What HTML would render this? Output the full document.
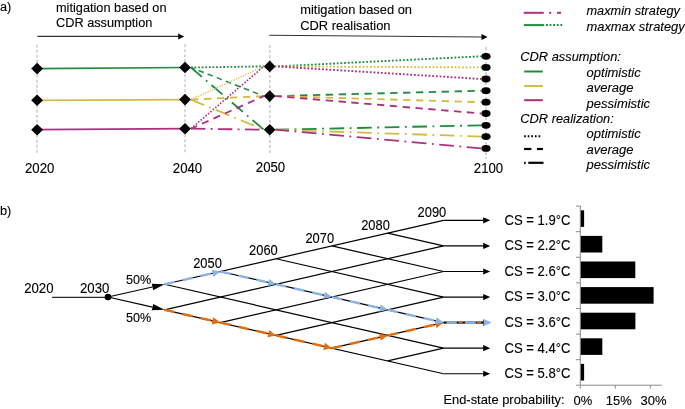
<!DOCTYPE html>
<html><head><meta charset="utf-8">
<style>
html,body{margin:0;padding:0;background:#fff;width:685px;height:409px;overflow:hidden}
svg{display:block;will-change:transform}
text{font-family:"Liberation Sans",sans-serif;font-size:12.75px;fill:#000;stroke:#000;stroke-width:0.12px}
</style></head><body>
<svg width="685" height="409" viewBox="0 0 685 409">
<text transform="translate(0,11.3) scale(1,1.04)" style="font-size:12.75px">a)</text>
<text transform="translate(56,11.5) scale(1,1.04)" style="font-size:12.75px">mitigation based on</text>
<text transform="translate(56,27) scale(1,1.04)" style="font-size:12.75px">CDR assumption</text>
<text transform="translate(300.2,14.2) scale(1,1.04)" style="font-size:12.9px">mitigation based on</text>
<text transform="translate(300.2,29.8) scale(1,1.04)" style="font-size:12.9px">CDR realisation</text>
<line x1="37.40" y1="36.40" x2="179.00" y2="36.40" stroke="#333" stroke-width="1.1" />
<path d="M184.20,36.40 L178.20,39.40 L178.20,33.40 Z" fill="#000"/>
<line x1="269.30" y1="35.20" x2="482.00" y2="36.95" stroke="#333" stroke-width="1.1" />
<path d="M487.50,37.00 L481.48,39.95 L481.52,33.95 Z" fill="#000"/>
<g stroke="#cfcfcf" stroke-width="1.6" stroke-dasharray="3 2" fill="none">
<line x1="37.00" y1="44.70" x2="37.00" y2="154.00" stroke="#cfcfcf" stroke-width="1.6" />
<line x1="185.00" y1="44.30" x2="185.00" y2="153.00" stroke="#cfcfcf" stroke-width="1.6" />
<line x1="269.80" y1="45.00" x2="269.80" y2="153.00" stroke="#cfcfcf" stroke-width="1.6" />
<line x1="486.00" y1="47.00" x2="486.00" y2="159.00" stroke="#cfcfcf" stroke-width="1.6" />
</g>
<line x1="37.10" y1="68.60" x2="185.00" y2="67.50" stroke="#1e8c3c" stroke-width="1.7" />
<line x1="37.10" y1="100.30" x2="185.00" y2="99.60" stroke="#d4bb48" stroke-width="1.7" />
<line x1="37.10" y1="129.70" x2="185.00" y2="128.70" stroke="#ac2f80" stroke-width="1.7" />
<g fill="none">
<line x1="190.90" y1="67.50" x2="263.80" y2="66.40" stroke="#1e8c3c" stroke-width="1.8" stroke-dasharray="1.8 1.8"/>
<line x1="190.90" y1="67.50" x2="263.80" y2="96.10" stroke="#1e8c3c" stroke-width="1.5" stroke-dasharray="5.56 4.17" stroke-dashoffset="1.5"/>
<line x1="190.90" y1="67.50" x2="263.80" y2="129.70" stroke="#1e8c3c" stroke-width="1.8" stroke-dasharray="14.40 5.40 1.80 5.40"/>
<line x1="190.90" y1="99.60" x2="263.80" y2="66.40" stroke="#d4bb48" stroke-width="1.3" stroke-dasharray="1.3 1.3"/>
<line x1="190.90" y1="99.60" x2="263.80" y2="96.10" stroke="#d4bb48" stroke-width="1.86" stroke-dasharray="7.44 5.58"/>
<line x1="190.90" y1="99.60" x2="263.80" y2="129.70" stroke="#d4bb48" stroke-width="1.8" stroke-dasharray="14.40 5.40 1.80 5.40"/>
<line x1="190.90" y1="128.70" x2="263.80" y2="66.40" stroke="#ac2f80" stroke-width="1.6" stroke-dasharray="1.6 1.6"/>
<line x1="190.90" y1="128.70" x2="263.80" y2="96.10" stroke="#ac2f80" stroke-width="1.8" stroke-dasharray="7.20 5.40" stroke-dashoffset="0.5"/>
<line x1="190.90" y1="128.70" x2="263.80" y2="129.70" stroke="#ac2f80" stroke-width="1.8" stroke-dasharray="14.40 5.40 1.80 5.40"/>
<line x1="275.60" y1="66.40" x2="481.40" y2="56.30" stroke="#1e8c3c" stroke-width="1.84" stroke-dasharray="1.84 1.84" stroke-dashoffset="1.3"/>
<line x1="275.60" y1="66.40" x2="481.40" y2="67.40" stroke="#d4bb48" stroke-width="1.84" stroke-dasharray="1.84 1.84" stroke-dashoffset="1.3"/>
<line x1="275.60" y1="66.40" x2="481.40" y2="79.00" stroke="#ac2f80" stroke-width="1.84" stroke-dasharray="1.84 1.84" stroke-dashoffset="1.3"/>
<line x1="275.60" y1="96.10" x2="481.40" y2="90.70" stroke="#1e8c3c" stroke-width="1.84" stroke-dasharray="7.36 5.52" stroke-dashoffset="1.3"/>
<line x1="275.60" y1="96.10" x2="481.40" y2="102.20" stroke="#d4bb48" stroke-width="1.84" stroke-dasharray="7.36 5.52" stroke-dashoffset="1.3"/>
<line x1="275.60" y1="96.10" x2="481.40" y2="113.50" stroke="#ac2f80" stroke-width="1.84" stroke-dasharray="7.36 5.52" stroke-dashoffset="1.3"/>
<line x1="275.60" y1="129.70" x2="481.40" y2="125.30" stroke="#1e8c3c" stroke-width="1.84" stroke-dasharray="14.72 5.52 1.84 5.52" stroke-dashoffset="1.3"/>
<line x1="275.60" y1="129.70" x2="481.40" y2="136.60" stroke="#d4bb48" stroke-width="1.84" stroke-dasharray="14.72 5.52 1.84 5.52" stroke-dashoffset="1.3"/>
<line x1="275.60" y1="129.70" x2="481.40" y2="148.40" stroke="#ac2f80" stroke-width="1.84" stroke-dasharray="14.72 5.52 1.84 5.52" stroke-dashoffset="1.3"/>
</g>
<g fill="#000">
<path d="M37.1,62.80 L43.00,68.6 L37.1,74.40 L31.20,68.6 Z"/>
<path d="M37.1,94.50 L43.00,100.3 L37.1,106.10 L31.20,100.3 Z"/>
<path d="M37.1,123.90 L43.00,129.7 L37.1,135.50 L31.20,129.7 Z"/>
<path d="M185.0,61.70 L190.90,67.5 L185.0,73.30 L179.10,67.5 Z"/>
<path d="M185.0,93.80 L190.90,99.6 L185.0,105.40 L179.10,99.6 Z"/>
<path d="M185.0,122.90 L190.90,128.7 L185.0,134.50 L179.10,128.7 Z"/>
<path d="M269.7,60.60 L275.60,66.4 L269.7,72.20 L263.80,66.4 Z"/>
<path d="M269.7,90.30 L275.60,96.1 L269.7,101.90 L263.80,96.1 Z"/>
<path d="M269.7,123.90 L275.60,129.7 L269.7,135.50 L263.80,129.7 Z"/>
<ellipse cx="486.0" cy="56.3" rx="4.6" ry="3.4"/>
<ellipse cx="486.0" cy="67.4" rx="4.6" ry="3.4"/>
<ellipse cx="486.0" cy="79.0" rx="4.6" ry="3.4"/>
<ellipse cx="486.0" cy="90.7" rx="4.6" ry="3.4"/>
<ellipse cx="486.0" cy="102.2" rx="4.6" ry="3.4"/>
<ellipse cx="486.0" cy="113.5" rx="4.6" ry="3.4"/>
<ellipse cx="486.0" cy="125.3" rx="4.6" ry="3.4"/>
<ellipse cx="486.0" cy="136.6" rx="4.6" ry="3.4"/>
<ellipse cx="486.0" cy="148.4" rx="4.6" ry="3.4"/>
</g>
<text transform="translate(25,173.1) scale(1,1.04)" style="font-size:13.2px">2020</text>
<text transform="translate(172.8,172.5) scale(1,1.04)" style="font-size:13.2px">2040</text>
<text transform="translate(255.8,171.9) scale(1,1.04)" style="font-size:13.2px">2050</text>
<text transform="translate(473.8,172.6) scale(1,1.04)" style="font-size:13.2px">2100</text>
<g fill="none">
<line x1="523.70" y1="12.80" x2="543.80" y2="12.80" stroke="#ac2f80" stroke-width="2" />
<line x1="549.10" y1="12.80" x2="551.20" y2="12.80" stroke="#ac2f80" stroke-width="2" />
<line x1="557.00" y1="12.80" x2="561.00" y2="12.80" stroke="#ac2f80" stroke-width="2" />
<line x1="523.90" y1="25.10" x2="544.20" y2="25.10" stroke="#1e8c3c" stroke-width="2" />
<line x1="546.00" y1="25.10" x2="563.00" y2="25.10" stroke="#1e8c3c" stroke-width="2" stroke-dasharray="1.8 1.8"/>
<line x1="524.20" y1="71.50" x2="542.80" y2="71.50" stroke="#1e8c3c" stroke-width="2" />
<line x1="524.20" y1="86.00" x2="542.80" y2="86.00" stroke="#d4bb48" stroke-width="2" />
<line x1="524.20" y1="100.20" x2="542.80" y2="100.20" stroke="#ac2f80" stroke-width="2" />
<line x1="524.10" y1="136.20" x2="542.00" y2="136.20" stroke="#000" stroke-width="2" stroke-dasharray="1.7 1.9"/>
<line x1="524.10" y1="149.00" x2="531.40" y2="149.00" stroke="#000" stroke-width="2.2" />
<line x1="536.90" y1="149.00" x2="542.90" y2="149.00" stroke="#000" stroke-width="2.2" />
<line x1="524.10" y1="162.80" x2="525.70" y2="162.80" stroke="#000" stroke-width="2.2" />
<line x1="528.30" y1="162.80" x2="543.50" y2="162.80" stroke="#000" stroke-width="2.2" />
</g>
<text transform="translate(586.5,15) scale(1,1.04)" style="font-size:12.75px;font-style:italic">maxmin strategy</text>
<text transform="translate(586.5,30.5) scale(1,1.04)" style="font-size:12.9px;font-style:italic">maxmax strategy</text>
<text transform="translate(520.3,60.7) scale(1,1.04)" style="font-size:12.85px;font-style:italic">CDR assumption:</text>
<text transform="translate(586.6,76.8) scale(1,1.04)" style="font-size:13px;font-style:italic">optimistic</text>
<text transform="translate(586.6,92.2) scale(1,1.04)" style="font-size:13px;font-style:italic">average</text>
<text transform="translate(586.6,107.6) scale(1,1.04)" style="font-size:13px;font-style:italic">pessimistic</text>
<text transform="translate(520.3,123) scale(1,1.04)" style="font-size:12.85px;font-style:italic">CDR realization:</text>
<text transform="translate(586.6,138.4) scale(1,1.04)" style="font-size:13px;font-style:italic">optimistic</text>
<text transform="translate(586.6,153.8) scale(1,1.04)" style="font-size:13px;font-style:italic">average</text>
<text transform="translate(586.6,169.2) scale(1,1.04)" style="font-size:13px;font-style:italic">pessimistic</text>
<text transform="translate(0,215) scale(1,1.07)" style="font-size:12.75px">b)</text>
<text transform="translate(24.2,293.1) scale(1,1.04)" style="font-size:13.2px">2020</text>
<text transform="translate(80,293.1) scale(1,1.04)" style="font-size:13.2px">2030</text>
<line x1="52.10" y1="297.40" x2="108.00" y2="297.40" stroke="#2a2a2a" stroke-width="1.25" />
<g stroke="#000" stroke-width="1.2" fill="none">
<line x1="164.50" y1="309.83" x2="443.50" y2="245.93" stroke="#000" stroke-width="1.2" />
<line x1="220.30" y1="322.61" x2="443.50" y2="271.49" stroke="#000" stroke-width="1.2" />
<line x1="276.10" y1="335.39" x2="443.50" y2="297.05" stroke="#000" stroke-width="1.2" />
<line x1="331.90" y1="348.17" x2="443.50" y2="322.61" stroke="#000" stroke-width="1.2" />
<line x1="387.70" y1="360.95" x2="443.50" y2="348.17" stroke="#000" stroke-width="1.2" />
<line x1="164.50" y1="284.27" x2="443.50" y2="220.37" stroke="#000" stroke-width="1.2" />
<line x1="164.50" y1="284.27" x2="443.50" y2="348.17" stroke="#000" stroke-width="1.2" />
<line x1="220.30" y1="271.49" x2="443.50" y2="322.61" stroke="#000" stroke-width="1.2" />
<line x1="276.10" y1="258.71" x2="443.50" y2="297.05" stroke="#000" stroke-width="1.2" />
<line x1="331.90" y1="245.93" x2="443.50" y2="271.49" stroke="#000" stroke-width="1.2" />
<line x1="387.70" y1="233.15" x2="443.50" y2="245.93" stroke="#000" stroke-width="1.2" />
<line x1="164.50" y1="309.83" x2="443.50" y2="373.73" stroke="#000" stroke-width="1.2" />
</g>
<line x1="443.50" y1="220.37" x2="485.00" y2="220.37" stroke="#000" stroke-width="1.2" />
<path d="M490.20,220.37 L483.20,223.47 L483.20,217.27 Z" fill="#000"/>
<line x1="443.50" y1="245.93" x2="485.00" y2="245.93" stroke="#000" stroke-width="1.2" />
<path d="M490.20,245.93 L483.20,249.03 L483.20,242.83 Z" fill="#000"/>
<line x1="443.50" y1="271.49" x2="485.00" y2="271.49" stroke="#000" stroke-width="1.2" />
<path d="M490.20,271.49 L483.20,274.59 L483.20,268.39 Z" fill="#000"/>
<line x1="443.50" y1="297.05" x2="485.00" y2="297.05" stroke="#000" stroke-width="1.2" />
<path d="M490.20,297.05 L483.20,300.15 L483.20,293.95 Z" fill="#000"/>
<line x1="443.50" y1="322.61" x2="485.00" y2="322.61" stroke="#000" stroke-width="1.2" />
<path d="M490.20,322.61 L483.20,325.71 L483.20,319.51 Z" fill="#000"/>
<line x1="443.50" y1="348.17" x2="485.00" y2="348.17" stroke="#000" stroke-width="1.2" />
<path d="M490.20,348.17 L483.20,351.27 L483.20,345.07 Z" fill="#000"/>
<line x1="443.50" y1="373.73" x2="485.00" y2="373.73" stroke="#000" stroke-width="1.2" />
<path d="M490.20,373.73 L483.20,376.83 L483.20,370.63 Z" fill="#000"/>
<path d="M164.50,284.27 L153.23,290.19 L151.78,283.75 Z" fill="#000"/>
<line x1="108.00" y1="297.00" x2="152.50" y2="286.97" stroke="#000" stroke-width="1.2" />
<path d="M164.50,309.83 L151.77,310.32 L153.24,303.89 Z" fill="#000"/>
<line x1="108.00" y1="297.00" x2="152.51" y2="307.11" stroke="#000" stroke-width="1.2" />
<circle cx="108" cy="297" r="3.3" fill="#000"/>
<line x1="164.50" y1="309.83" x2="212.99" y2="320.94" stroke="#e46c0a" stroke-width="2.4" stroke-dasharray="10.5 8"/>
<path d="M220.30,322.61 L211.68,324.43 L213.33,317.22 Z" fill="#e46c0a"/>
<line x1="220.30" y1="322.61" x2="268.79" y2="333.72" stroke="#e46c0a" stroke-width="2.4" stroke-dasharray="10.5 8"/>
<path d="M276.10,335.39 L267.48,337.21 L269.13,330.00 Z" fill="#e46c0a"/>
<line x1="276.10" y1="335.39" x2="324.59" y2="346.50" stroke="#e46c0a" stroke-width="2.4" stroke-dasharray="10.5 8"/>
<path d="M331.90,348.17 L323.28,349.99 L324.93,342.78 Z" fill="#e46c0a"/>
<line x1="331.90" y1="348.17" x2="380.39" y2="337.06" stroke="#e46c0a" stroke-width="2.4" stroke-dasharray="10.5 8"/>
<path d="M387.70,335.39 L380.73,340.78 L379.08,333.57 Z" fill="#e46c0a"/>
<line x1="387.70" y1="335.39" x2="436.19" y2="324.28" stroke="#e46c0a" stroke-width="2.4" stroke-dasharray="10.5 8"/>
<path d="M443.50,322.61 L436.53,328.00 L434.88,320.79 Z" fill="#e46c0a"/>
<line x1="164.50" y1="284.27" x2="212.99" y2="273.16" stroke="#8db4e2" stroke-width="2.4" stroke-dasharray="10.5 8"/>
<path d="M220.30,271.49 L213.33,276.88 L211.68,269.67 Z" fill="#8db4e2"/>
<line x1="220.30" y1="271.49" x2="268.79" y2="282.60" stroke="#8db4e2" stroke-width="2.4" stroke-dasharray="10.5 8"/>
<path d="M276.10,284.27 L267.48,286.09 L269.13,278.88 Z" fill="#8db4e2"/>
<line x1="276.10" y1="284.27" x2="324.59" y2="295.38" stroke="#8db4e2" stroke-width="2.4" stroke-dasharray="10.5 8"/>
<path d="M331.90,297.05 L323.28,298.87 L324.93,291.66 Z" fill="#8db4e2"/>
<line x1="331.90" y1="297.05" x2="380.39" y2="308.16" stroke="#8db4e2" stroke-width="2.4" stroke-dasharray="10.5 8"/>
<path d="M387.70,309.83 L379.08,311.65 L380.73,304.44 Z" fill="#8db4e2"/>
<line x1="387.70" y1="309.83" x2="436.19" y2="320.94" stroke="#8db4e2" stroke-width="2.4" stroke-dasharray="10.5 8"/>
<path d="M443.50,322.61 L434.88,324.43 L436.53,317.22 Z" fill="#8db4e2"/>
<line x1="444.00" y1="322.61" x2="486.00" y2="322.61" stroke="#000" stroke-width="2.0" />
<line x1="458.40" y1="322.61" x2="462.60" y2="322.61" stroke="#e46c0a" stroke-width="1.2" />
<line x1="476.90" y1="322.61" x2="481.10" y2="322.61" stroke="#e46c0a" stroke-width="1.2" />
<line x1="446.50" y1="322.61" x2="456.80" y2="322.61" stroke="#8db4e2" stroke-width="2.4" />
<line x1="465.00" y1="322.61" x2="475.80" y2="322.61" stroke="#8db4e2" stroke-width="2.4" />
<path d="M491.80,322.61 L483.60,326.11 L483.60,319.11 Z" fill="#8db4e2"/>
<text transform="translate(126,283.6) scale(1,1.04)" style="font-size:12.6px">50%</text>
<text transform="translate(126,321.7) scale(1,1.04)" style="font-size:12.6px">50%</text>
<text transform="translate(193.2,268) scale(1,1.07)" style="font-size:12.9px">2050</text>
<text transform="translate(249.1,254.9) scale(1,1.07)" style="font-size:12.9px">2060</text>
<text transform="translate(305.4,242.8) scale(1,1.07)" style="font-size:12.9px">2070</text>
<text transform="translate(361.2,230.2) scale(1,1.07)" style="font-size:12.9px">2080</text>
<text transform="translate(417.6,216.9) scale(1,1.07)" style="font-size:12.9px">2090</text>
<text transform="translate(504.5,225) scale(1,1.06)" style="font-size:13.1px">CS = 1.9°C</text>
<text transform="translate(504.5,250) scale(1,1.06)" style="font-size:13.1px">CS = 2.2°C</text>
<text transform="translate(504.5,276) scale(1,1.06)" style="font-size:13.1px">CS = 2.6°C</text>
<text transform="translate(504.5,301) scale(1,1.06)" style="font-size:13.1px">CS = 3.0°C</text>
<text transform="translate(504.5,327) scale(1,1.06)" style="font-size:13.1px">CS = 3.6°C</text>
<text transform="translate(504.5,353) scale(1,1.06)" style="font-size:13.1px">CS = 4.4°C</text>
<text transform="translate(504.5,378) scale(1,1.06)" style="font-size:13.1px">CS = 5.8°C</text>
<g stroke="#8a8a8a" stroke-width="1" fill="none">
<line x1="580.30" y1="205.80" x2="580.30" y2="385.20" stroke="#8a8a8a" stroke-width="1" />
<line x1="576.00" y1="385.20" x2="661.70" y2="385.20" stroke="#8a8a8a" stroke-width="1" />
<line x1="576.00" y1="206.10" x2="580.30" y2="206.10" stroke="#8a8a8a" stroke-width="1" />
<line x1="576.00" y1="231.70" x2="580.30" y2="231.70" stroke="#8a8a8a" stroke-width="1" />
<line x1="576.00" y1="257.30" x2="580.30" y2="257.30" stroke="#8a8a8a" stroke-width="1" />
<line x1="576.00" y1="282.90" x2="580.30" y2="282.90" stroke="#8a8a8a" stroke-width="1" />
<line x1="576.00" y1="308.50" x2="580.30" y2="308.50" stroke="#8a8a8a" stroke-width="1" />
<line x1="576.00" y1="334.10" x2="580.30" y2="334.10" stroke="#8a8a8a" stroke-width="1" />
<line x1="576.00" y1="359.70" x2="580.30" y2="359.70" stroke="#8a8a8a" stroke-width="1" />
<line x1="580.30" y1="385.20" x2="580.30" y2="388.50" stroke="#8a8a8a" stroke-width="1" />
<line x1="615.30" y1="385.20" x2="615.30" y2="388.50" stroke="#8a8a8a" stroke-width="1" />
<line x1="650.30" y1="385.20" x2="650.30" y2="388.50" stroke="#8a8a8a" stroke-width="1" />
</g>
<g fill="#000">
<rect x="580.8" y="210.30" width="3.3" height="16.6"/>
<rect x="580.8" y="235.90" width="21.5" height="16.6"/>
<rect x="580.8" y="261.50" width="54.5" height="16.6"/>
<rect x="580.8" y="287.10" width="72.8" height="16.6"/>
<rect x="580.8" y="312.70" width="54.6" height="16.6"/>
<rect x="580.8" y="338.30" width="21.5" height="16.6"/>
<rect x="580.8" y="363.90" width="3.3" height="16.6"/>
</g>
<text transform="translate(443.4,404) scale(1,1.04)" style="font-size:12.9px">End-state probability:</text>
<text transform="translate(573.6,404.9) scale(1,1.04)" style="font-size:13px">0%</text>
<text transform="translate(605.8,404.9) scale(1,1.04)" style="font-size:13px">15%</text>
<text transform="translate(640.6,404.9) scale(1,1.04)" style="font-size:13px">30%</text>
</svg>
</body></html>
